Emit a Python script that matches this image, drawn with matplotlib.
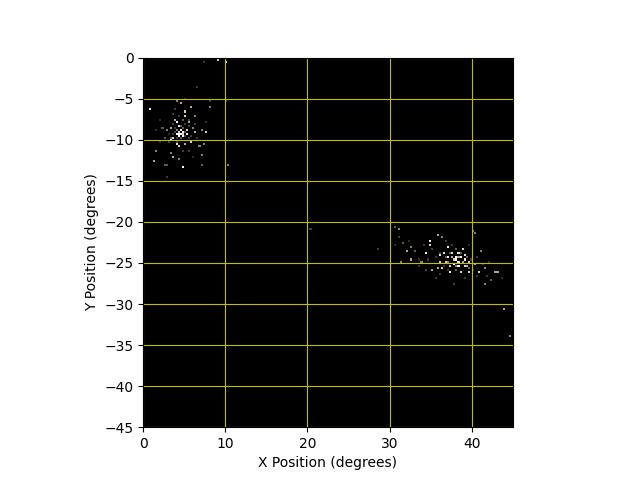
import matplotlib
matplotlib.use("Agg")
import matplotlib.pyplot as plt
from matplotlib.colors import LinearSegmentedColormap
import numpy as np

# star positions (degrees) and brightness
star_x = [0.9, 4.0, 4.25, 4.65, 4.45, 4.85, 5.05, 5.85, 5.2, 3.85,
          3.25, 2.85, 5.45, 6.05, 7.05, 6.45, 5.85, 5.05, 4.45, 4.05,
          3.25, 7.3, 3.45, 3.65, 1.6, 1.4, 2.85, 4.45, 4.85, 7.05,
          6.85, 7.7, 8.1, 2.4, 2.6, 6.25, 4.65, 4.05, 5.65, 4.3,
          4.5, 4.9, 4.1, 3.6, 5.3, 4.7, 2.6, 4.8, 7.05, 10.4,
          2.85, 9.15, 10.15, 7.4, 6.7, 10.05, 8.1, 20.25, 28.7,
          30.7, 31.1, 31.2, 31.7, 32.0, 32.6, 33.2, 31.4, 32.6, 34.3,
          34.9, 34.8, 35.95, 36.35, 37.2, 37.6, 38.05, 38.45, 37.45, 37.45,
          38.65, 39.2, 39.25, 39.65, 40.4, 41.05, 40.9, 41.7, 41.6, 42.3,
          43.1, 43.9, 44.5, 36.0, 36.2, 35.8, 36.6, 36.8, 38.45, 38.85,
          39.05, 40.3, 39.65, 35.55, 37.95, 42.9, 34.4, 33.6, 40.15, 38.2,
          37.8, 38.6, 37.0, 39.0, 38.3, 36.4, 35.2, 33.9,
          # fainter stars in the first cluster
          4.2, 4.4, 4.6, 4.8, 4.3, 4.0, 3.8, 5.0, 5.2, 4.6,
          4.1, 3.9, 4.9, 5.4, 3.5, 4.5, 5.1, 3.7, 5.6, 4.2,
          3.4, 5.9, 3.0, 5.7, 4.75, 4.3, 3.5, 5.5, 6.3, 6.6,
          3.1, 4.9, 5.6, 2.2, 6.1, 3.8, 5.0, 2.0, 7.6, 1.7,
          # fainter stars in the second cluster
          37.5, 37.9, 38.3, 37.2, 38.0, 38.8, 36.9, 37.3, 38.6, 39.3,
          39.5, 36.5, 36.2, 37.0, 38.2, 39.8, 40.0, 35.5, 35.0, 34.7,
          36.9, 37.7, 38.1, 40.6, 41.3, 40.7, 39.2, 36.1, 34.0, 33.5,
          32.3, 30.5, 42.0, 41.8, 43.6, 39.5]
star_y = [-6.3, -8.0, -8.5, -9.4, -9.6, -9.2, -6.55, -6.2, -7.15, -7.55,
          -8.6, -8.8, -8.8, -8.6, -8.8, -9.2, -10.4, -10.6, -10.8, -10.6,
          -10.2, -10.6, -11.6, -12.2, -11.4, -12.6, -13.05, -12.4, -13.45, -11.8,
          -11.0, -9.2, -6.15, -8.6, -9.8, -7.15, -5.75, -5.3, -7.95, -9.3,
          -9.0, -9.7, -9.5, -9.9, -9.5, -8.8, -13.05, -13.45, -13.25, -13.05,
          -14.7, -0.33, -0.57, -0.65, -3.6, -5.3, -5.3, -20.9, -23.5,
          -20.65, -21.0, -21.9, -22.7, -23.7, -23.2, -23.75, -24.9, -24.6, -24.0,
          -22.5, -22.9, -21.7, -22.0, -23.1, -23.8, -24.4, -24.95, -25.45, -26.2,
          -26.25, -24.6, -25.45, -25.0, -21.4, -23.75, -26.25, -25.65, -27.7, -27.1,
          -26.25, -30.65, -33.8, -24.2, -24.85, -25.65, -23.8, -25.0, -23.8, -23.4,
          -25.45, -25.2, -26.25, -26.9, -27.7, -26.2, -25.9, -25.45, -21.2, -24.7,
          -25.1, -24.3, -24.5, -24.2, -25.3, -25.6, -25.9, -24.8,
          -9.0, -9.1, -9.0, -9.5, -9.7, -9.3, -9.1, -9.1, -9.6, -10.0,
          -10.0, -8.7, -8.6, -9.3, -9.4, -8.3, -8.2, -8.2, -10.0, -10.3,
          -10.0, -9.6, -9.3, -8.4, -7.6, -7.2, -7.0, -7.6, -8.2, -9.8,
          -10.4, -11.3, -11.5, -10.5, -12.2, -6.5, -5.2, -7.6, -7.8, -9.0,
          -24.4, -24.7, -24.5, -24.9, -25.3, -24.9, -24.3, -23.9, -23.9, -24.3,
          -25.6, -25.3, -24.0, -25.9, -26.0, -24.6, -25.8, -24.5, -23.5, -24.7,
          -22.5, -22.9, -23.3, -24.5, -25.2, -26.7, -26.8, -26.4, -23.0, -24.6,
          -22.3, -23.0, -24.8, -26.6, -27.0, -22.8]
star_flux = [8, 9, 7, 10, 9, 8, 6, 5, 6, 5,
             5, 4, 6, 4, 4, 5, 6, 5, 6, 7,
             7, 4, 4, 5, 4, 5, 3, 4, 5, 4,
             4, 6, 4, 3, 3, 4, 5, 4, 5, 10,
             9, 8, 7, 6, 6, 7, 3, 4, 3, 4,
             2, 6, 7, 2, 2, 2, 2, 2, 2,
             3, 4, 2, 3, 5, 4, 3, 4, 5, 8,
             8, 6, 5, 4, 8, 7, 9, 8, 6, 8,
             6, 8, 5, 6, 4, 4, 6, 4, 4, 3,
             5, 5, 4, 7, 6, 5, 7, 6, 7, 6,
             6, 5, 6, 2, 2, 5, 2, 2, 4, 10,
             9, 8, 8, 7, 8, 6, 5, 4,
             4, 6, 5, 6, 5, 3, 2, 3, 2, 3,
             2, 2, 3, 2, 2, 3, 2, 2, 2, 2,
             3, 2, 1.5, 2, 3, 2, 2, 2, 2, 2,
             2, 2, 2, 1.5, 1.5, 2, 1.5, 1.5, 1.5, 1.5,
             5, 6, 5, 4, 4, 5, 3, 3, 3, 3,
             3, 2, 2, 2, 3, 2, 2, 2, 2, 2,
             2, 2, 3, 2, 2, 2, 2, 2, 2, 1.5,
             1.5, 1.5, 1.5, 2, 1.5, 1.5]

H, xe, ye = np.histogram2d(star_x, star_y, bins=180, range=[[0, 45], [-45, 0]],
                           weights=star_flux)
H = np.ma.masked_equal(H, 0)

# black -> greyish brown -> cream -> white, like the star colours in the picture
star_cmap = LinearSegmentedColormap.from_list(
    "stars", ["black", (0.40, 0.35, 0.32), (0.88, 0.80, 0.72), "white"])

fig, ax = plt.subplots()
ax.set_facecolor("black")
ax.imshow(H.T, origin="lower", extent=[0, 45, -45, 0], cmap=star_cmap,
          vmin=0, vmax=9, interpolation="nearest")
ax.grid(True, color="y")
ax.set_xlim(0, 45)
ax.set_ylim(-45, 0)
ax.set_xlabel("X Position (degrees)")
ax.set_ylabel("Y Position (degrees)")
plt.savefig("out.png")
